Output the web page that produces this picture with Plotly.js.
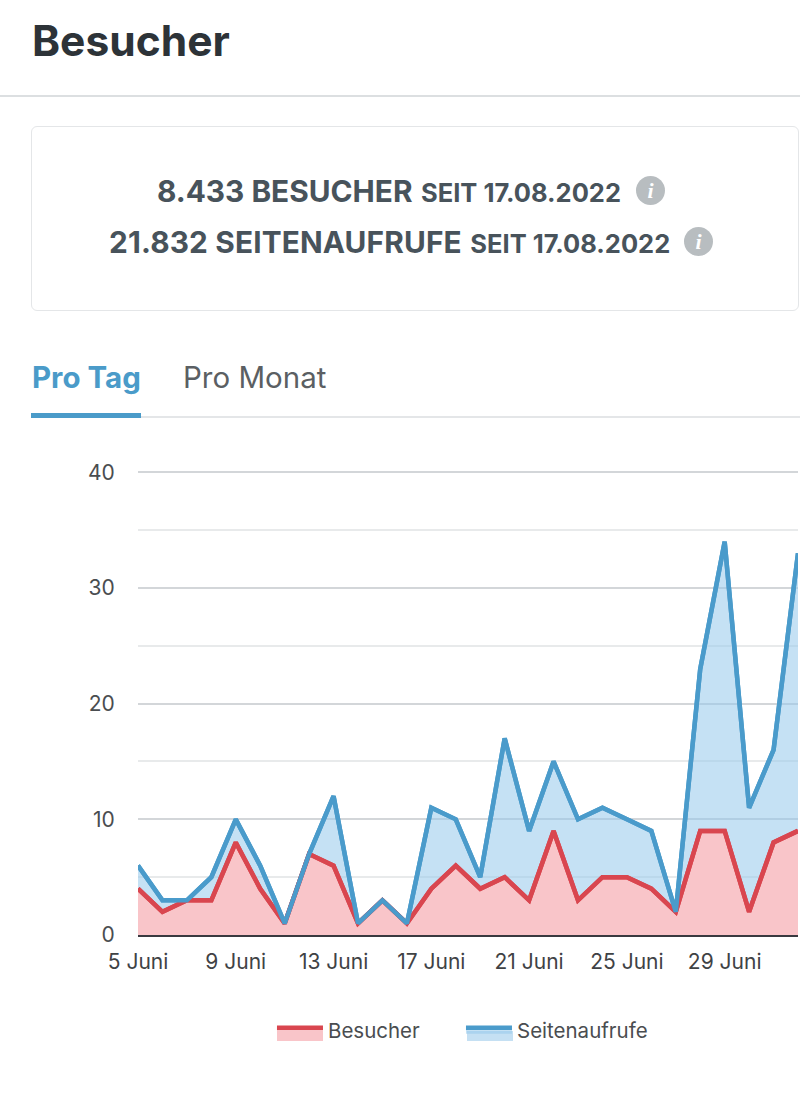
<!DOCTYPE html>
<html lang="de">
<head>
<meta charset="utf-8">
<script src="https://cdn.plot.ly/plotly-3.0.1.min.js"></script>
<style>
html,body{margin:0;padding:0;background:#fff;width:800px;height:1096px;overflow:hidden;font-family:Inter,Lato,sans-serif}
#chart{position:absolute;left:0;top:0;width:800px;height:1096px}
.t{position:absolute;white-space:nowrap;line-height:1}
.rule{position:absolute}
.info{position:absolute;width:29px;height:29px;border-radius:50%;background:#b8bdc0;color:#fff;font:italic bold 22px/29px "Liberation Serif",serif;text-align:center}
.big{font-size:29.8px;font-weight:700;color:#48535b}
.small{font-size:25.5px;font-weight:700;color:#48535b}
</style>
</head>
<body>
<div class="rule" style="left:277px;top:1031px;width:46px;height:10px;background:#f9c5c9"></div>
<div class="rule" style="left:467px;top:1031px;width:46px;height:10px;background:#c5e0f3"></div>
<div id="chart"></div>
<div class="t" style="left:32px;top:20px;font-size:42.5px;font-weight:700;color:#2d3338">Besucher</div>
<div class="rule" style="left:0;top:95px;width:800px;height:2px;background:#dcdfe1"></div>
<div class="rule" style="left:31px;top:126px;width:766px;height:183px;border:1.5px solid #e4e6e8;border-radius:6px"></div>
<div class="t" style="left:157px;top:177px"><span class="big">8.433 BESUCHER</span> <span class="small" style="margin-left:4px">SEIT 17.08.2022</span></div>
<div class="info" style="left:636px;top:176px">i</div>
<div class="t" style="left:109px;top:228px"><span class="big" style="letter-spacing:0.15px">21.832 SEITENAUFRUFE</span> <span class="small" style="margin-left:4px">SEIT 17.08.2022</span></div>
<div class="info" style="left:684px;top:227px">i</div>
<div class="t" style="left:32px;top:363px;font-size:29.5px;font-weight:700;color:#4a9bc9">Pro Tag</div>
<div class="t" style="left:183px;top:363px;font-size:29.5px;color:#5b5f63">Pro Monat</div>
<div class="rule" style="left:31px;top:416px;width:769px;height:2px;background:#e4e6e8"></div>
<div class="rule" style="left:31px;top:413px;width:110px;height:5px;background:#4a9bc9"></div>
<script>
const days = ["5 Juni","6 Juni","7 Juni","8 Juni","9 Juni","10 Juni","11 Juni","12 Juni","13 Juni","14 Juni","15 Juni","16 Juni","17 Juni","18 Juni","19 Juni","20 Juni","21 Juni","22 Juni","23 Juni","24 Juni","25 Juni","26 Juni","27 Juni","28 Juni","29 Juni","30 Juni","1 Juli","2 Juli"];
const besucher = [4,2,3,3,8,4,1,7,6,1,3,1,4,6,4,5,3,9,3,5,5,4,2,9,9,2,8,9];
const seitenaufrufe = [6,3,3,5,10,6,1,7,12,1,3,1,11,10,5,17,9,15,10,11,10,9,2,23,34,11,16,33];
const xTicks = ["5 Juni","9 Juni","13 Juni","17 Juni","21 Juni","25 Juni","29 Juni"];
const yTicks = [0,10,20,30,40];
const RED = "#d9464f", BLUE = "#4a9bcb";
const traces = [
  {x:days,y:seitenaufrufe,name:"Seitenaufrufe",type:"scatter",mode:"lines",fill:"tozeroy",fillcolor:"rgba(150,200,235,0.55)",line:{color:BLUE,width:4.5},hoverinfo:"skip"},
  {x:days,y:besucher,name:"Besucher",type:"scatter",mode:"lines",fill:"tozeroy",fillcolor:"#f9c5c9",line:{color:RED,width:4.5},hoverinfo:"skip"},
  {x:days,y:besucher,type:"scatter",mode:"lines",showlegend:false,line:{color:RED,width:4.5},hoverinfo:"skip"},
  {x:days,y:seitenaufrufe,type:"scatter",mode:"lines",showlegend:false,line:{color:BLUE,width:4.5},hoverinfo:"skip"}
];
const layout = {
  width:800,height:1096,
  margin:{l:138,r:2,t:470,b:161,pad:0},
  paper_bgcolor:"rgba(0,0,0,0)",plot_bgcolor:"rgba(0,0,0,0)",
  font:{family:"Inter, Lato, sans-serif",size:21,color:"#4a4d50"},
  showlegend:true,
  legend:{orientation:"h",traceorder:"reversed",x:0.203,xanchor:"left",xref:"paper",y:-0.204,yanchor:"middle",itemwidth:46,entrywidth:128,entrywidthmode:"pixels",font:{size:20.5,color:"#4a4d50"}},
  xaxis:{type:"category",categoryorder:"array",categoryarray:days,range:[0,27],tickmode:"array",tickvals:xTicks,ticktext:xTicks,showgrid:false,zeroline:false,showline:true,linecolor:"#3a3a40",linewidth:2,ticks:"outside",ticklen:7,tickcolor:"rgba(0,0,0,0)",tickfont:{size:21,color:"#3f4245"}},
  yaxis:{range:[0,40.2],tickmode:"array",tickvals:yTicks,showgrid:true,gridcolor:"#d3d6d9",gridwidth:2,zeroline:false,showline:false,ticks:"outside",ticklen:18,tickcolor:"rgba(0,0,0,0)",tickfont:{size:21,color:"#4a4d50"},
    minor:{tickmode:"array",tickvals:[5,15,25,35],showgrid:true,gridcolor:"#e8eaeb",gridwidth:2,ticks:""}}
};
Plotly.newPlot("chart",traces,layout,{displayModeBar:false,staticPlot:true});
</script>
</body>
</html>
